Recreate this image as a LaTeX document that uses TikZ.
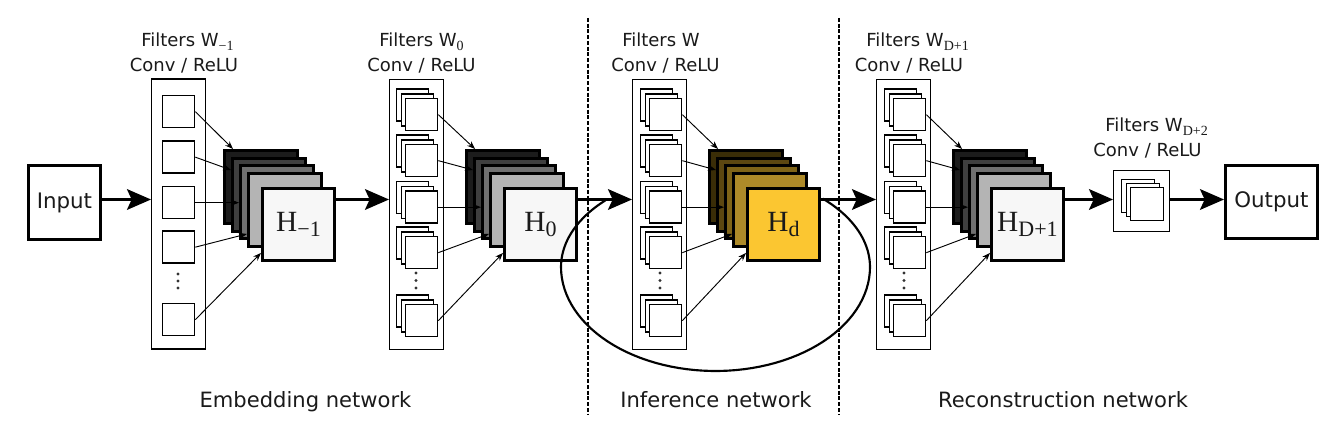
\documentclass[tikz,border=0pt]{standalone}
\usepackage{fontspec}
\setmainfont{DejaVu Sans}
\newfontfamily\serifH{Liberation Serif}
\usetikzlibrary{arrows.meta,calc}
\newcommand\pxu{0.75pt}
\newcommand\fsub[1]{\raisebox{-2.4pt}{\serifH\fontsize{10.5}{10.5}\selectfont #1}}
\newcommand\hsub[1]{\raisebox{-4pt}{\fontsize{16.5}{16.5}\selectfont #1}}
\newcommand\hlab[2]{{\serifH\fontsize{22}{22}\selectfont #1\hsub{#2}}}
\definecolor{ga}{HTML}{1C1C1C}
\definecolor{gb}{HTML}{3F3F3F}
\definecolor{gc}{HTML}{707070}
\definecolor{gd}{HTML}{B4B4B4}
\definecolor{ge}{HTML}{F7F7F7}
\definecolor{ya}{HTML}{3A2D07}
\definecolor{yb}{HTML}{5C4711}
\definecolor{yc}{HTML}{7F6418}
\definecolor{yd}{HTML}{AD8A29}
\definecolor{ye}{HTML}{FBC631}
\definecolor{txt}{HTML}{1A1A1A}
\tikzset{
  colbox/.style={draw, line width=1.1pt, fill=white, anchor=north west, inner sep=0pt,
    minimum width=54*\pxu, minimum height=270*\pxu},
  sq/.style={draw, line width=1pt, fill=white, anchor=north west, inner sep=0pt, minimum size=32*\pxu},
  layer/.style={draw, line width=2.2pt, anchor=north west, inner sep=0pt, minimum size=73*\pxu},
  front/.style={layer, minimum size=72*\pxu, text=txt},
  iobox/.style={draw, line width=2.2pt, anchor=north west, inner sep=0pt, font=\fontsize{16}{16}\selectfont, text=txt},
  lab/.style={inner sep=0pt, font=\fontsize{13.5}{13.5}\selectfont, text=txt},
  bot/.style={inner sep=0pt, font=\fontsize{15.8}{15.8}\selectfont, text=txt, anchor=base},
  big/.style={line width=2pt, -{Stealth[length=18pt,width=15.5pt,inset=3.5pt]}},
  thin/.style={line width=0.7pt, -{Stealth[length=6pt,width=4.5pt]}},
  dotn/.style={circle, fill=black!80, inner sep=0pt, minimum size=3.4*\pxu},
  sep/.style={line width=1.5pt, dash pattern=on 3pt off 1.3pt},
  loopline/.style={line width=1.6pt}
}
\newcommand\grp[3]{%
  \node[sq] (#1a) at (#2-9,#3-9.5) {};
  \node[sq] (#1b) at (#2-4.5,#3-4.75) {};
  \node[sq] (#1) at (#2,#3) {};}
\newcommand\fstack[8]{%
  \node[layer,fill=#3] (#1l1) at (#2,149) {};
  \node[layer,fill=#4] (#1l2) at (#2+8,157) {};
  \node[layer,fill=#5] (#1l3) at (#2+16,164.5) {};
  \node[layer,fill=#6] (#1l4) at (#2+24,172) {};
  \node[front,fill=#7] (#1h) at (#2+38,187) {#8};}
\newcommand\farrows[6]{%
  \draw[thin] (#2.east) -- ($(#1l1.north west)+(10,0)$);
  \draw[thin] (#3.east) -- ($(#1l2.north west)+(0,13)$);
  \draw[thin] (#4.east) -- (#1l3.west |- #4.east);
  \draw[thin] (#5.east) -- ($(#1l4.south west)+(0,-14)$);
  \draw[thin] (#6.east) -- ($(#1h.south west)+(0,-9)$);}
\begin{document}
\begin{tikzpicture}[x=0.75pt,y=-0.75pt]
\useasboundingbox (0,0) rectangle (1334,427);
\fill[white] (0,0) rectangle (1334,427);
\coordinate (row) at (0,199.5);

% separators
\coordinate (sa1) at (588,18); \coordinate (sa2) at (588,415);
\coordinate (sb1) at (839,18); \coordinate (sb2) at (839,415);
\draw[sep] (sa1) -- (sa2);
\draw[sep] (sb1) -- (sb2);

% input
\node[iobox, minimum width=72*\pxu, minimum height=74*\pxu] (in) at (27,164) {Input};

% column 1
\node[colbox] (c1) at (151,78.5) {};
\node[sq] (s11) at (162,95) {};
\node[sq] (s12) at (162,140.5) {};
\node[sq] (s13) at (162,186) {};
\node[sq] (s14) at (162,230.5) {};
\node[sq] (s15) at (162,303) {};
\node[dotn] (d11) at (178,274) {};
\node[dotn] (d12) at (178,281) {};
\node[dotn] (d13) at (178,288) {};
\node[lab, anchor=base west] (f1) at (141,47) {Filters W\fsub{−1}};
\node[lab, anchor=base] (r1) at (184,72) {Conv / ReLU};
\fstack{A}{223}{ga}{gb}{gc}{gd}{ge}{\hlab{H}{−1}}
\farrows{A}{s11}{s12}{s13}{s14}{s15}

% column 2
\node[colbox] (c2) at (389,79) {};
\grp{s21}{405}{98}
\grp{s22}{405}{144}
\grp{s23}{405}{190.5}
\grp{s24}{405}{236}
\grp{s25}{405}{304}
\node[dotn] (d21) at (416,273) {};
\node[dotn] (d22) at (416,280.5) {};
\node[dotn] (d23) at (416,288) {};
\node[lab, anchor=base west] (f2) at (379,47) {Filters W\fsub{0}};
\node[lab, anchor=base] (r2) at (421.5,72) {Conv / ReLU};
\fstack{B}{465}{ga}{gb}{gc}{gd}{ge}{\hlab{H}{0}}
\farrows{B}{s21}{s22}{s23}{s24}{s25}

% column 3
\node[colbox] (c3) at (632,79) {};
\grp{s31}{649}{98}
\grp{s32}{649}{144}
\grp{s33}{649}{190.5}
\grp{s34}{649}{236}
\grp{s35}{649}{304}
\node[dotn] (d31) at (660,273) {};
\node[dotn] (d32) at (660,280.5) {};
\node[dotn] (d33) at (660,288) {};
\node[lab, anchor=base west] (f3) at (622,47) {Filters W};
\node[lab, anchor=base] (r3) at (665.5,72) {Conv / ReLU};
\fstack{C}{708}{ya}{yb}{yc}{yd}{ye}{\hlab{H}{d}}
\farrows{C}{s31}{s32}{s33}{s34}{s35}

% column 4
\node[colbox] (c4) at (876,79) {};
\grp{s41}{893}{98}
\grp{s42}{893}{144}
\grp{s43}{893}{190.5}
\grp{s44}{893}{236}
\grp{s45}{893}{304}
\node[dotn] (d41) at (904,273) {};
\node[dotn] (d42) at (904,280.5) {};
\node[dotn] (d43) at (904,288) {};
\node[lab, anchor=base west] (f4) at (866,47) {Filters W\fsub{D+1}};
\node[lab, anchor=base] (r4) at (909,72) {Conv / ReLU};
\fstack{D}{952}{ga}{gb}{gc}{gd}{ge}{\hlab{H}{D+1}}
\farrows{D}{s41}{s42}{s43}{s44}{s45}

% last filter box
\node[draw, line width=1.1pt, fill=white, anchor=north west, inner sep=0pt,
  minimum width=56*\pxu, minimum height=61*\pxu] (c5) at (1113,170) {};
\node[sq, minimum size=33*\pxu] (s5a) at (1121,179) {};
\node[sq, minimum size=33*\pxu] (s5b) at (1125.5,183) {};
\node[sq, minimum size=33*\pxu] (s5c) at (1130,187) {};
\node[lab, anchor=base west] (f5) at (1105,132) {Filters W\fsub{D+2}};
\node[lab, anchor=base] (r5) at (1147.5,157) {Conv / ReLU};

% output
\node[iobox, minimum width=92*\pxu, minimum height=73*\pxu] (out) at (1224,164) {Output};

% main arrows
\draw[big] (in.east |- row) -- (c1.west |- row);
\draw[big] (Ah.east |- row) -- (c2.west |- row);
\draw[big] (Bh.east |- row) -- (c3.west |- row);
\draw[big] (Ch.east |- row) -- (c4.west |- row);
\draw[big] (Dh.east |- row) -- (c5.west |- row);
\draw[big] (c5.east |- row) -- (out.west |- row);

% recursion loop
\draw[loopline] plot[domain=-46:0, samples=20] ({715.5+154.5*cos(\x)},{267+95*sin(\x)})
  -- plot[domain=0:180, samples=60] ({715.5+154.5*cos(\x)},{267+104*sin(\x)})
  -- plot[domain=180:224.6, samples=20] ({715.5+154.5*cos(\x)},{267+95*sin(\x)});

% section labels
\node[bot] (le) at (305.5,407) {Embedding network};
\node[bot] (li) at (716,407) {Inference network};
\node[bot] (lr) at (1063,407) {Reconstruction network};
\end{tikzpicture}
\end{document}
